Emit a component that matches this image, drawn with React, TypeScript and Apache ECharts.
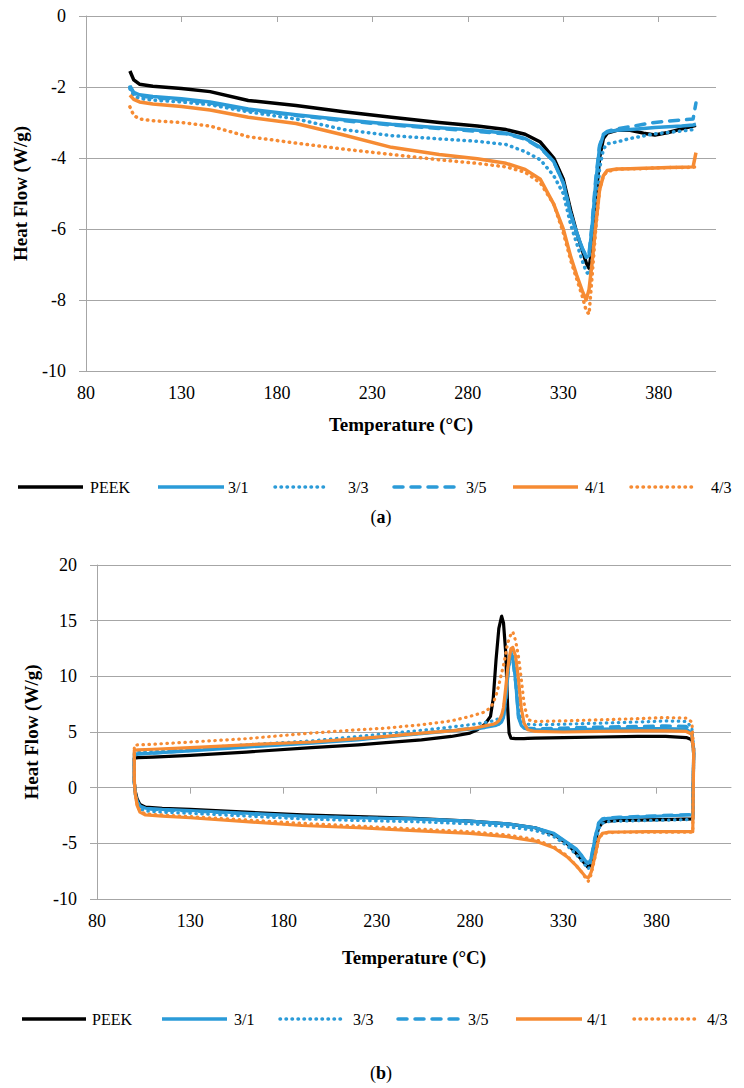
import React, { useEffect, useRef } from 'react';
import * as echarts from 'echarts';

const FONT = "'Liberation Serif', 'Times New Roman', serif";
const BLACK = '#000000';
const BLUE = '#2B9BD8';
const ORANGE = '#F68B33';
const GRAY = '#A6A6A6';

const seriesNames = ['PEEK', '3/1', '3/3', '3/5', '4/1', '4/3'];
const xTicks = [80, 130, 180, 230, 280, 330, 380];

// ---------- Chart (a): heating ----------
const tempA = [103, 105, 108, 115, 130, 145, 165, 190, 215, 240, 265, 285, 300, 310, 318, 325, 330, 334, 337, 340, 342, 343.5, 345, 347, 349, 351, 353, 358, 365, 372, 378, 385, 392, 398, 399.5];
const peekA = [-1.55, -1.8, -1.92, -1.98, -2.04, -2.13, -2.38, -2.52, -2.7, -2.85, -3.0, -3.1, -3.2, -3.33, -3.55, -4.0, -4.6, -5.5, -6.1, -6.6, -6.95, -7.1, -6.6, -5.2, -4.0, -3.45, -3.3, -3.22, -3.22, -3.3, -3.35, -3.28, -3.18, -3.1, -3.08];
const s31A = [-1.97, -2.15, -2.22, -2.27, -2.33, -2.42, -2.62, -2.78, -2.92, -3.05, -3.15, -3.22, -3.3, -3.45, -3.7, -4.1, -4.7, -5.6, -6.1, -6.55, -6.8, -6.75, -6.0, -4.7, -3.7, -3.35, -3.27, -3.22, -3.2, -3.17, -3.14, -3.12, -3.1, -3.07, -3.05];
const s33A = [-2.05, -2.25, -2.32, -2.37, -2.42, -2.5, -2.7, -2.9, -3.2, -3.37, -3.46, -3.53, -3.62, -3.82, -4.05, -4.5, -5.0, -5.9, -6.4, -6.9, -7.2, -7.3, -7.0, -5.8, -4.3, -3.75, -3.6, -3.55, -3.45, -3.38, -3.32, -3.28, -3.24, -3.2, -3.18];
const s35A = [-2.0, -2.18, -2.25, -2.3, -2.36, -2.45, -2.65, -2.8, -2.95, -3.07, -3.17, -3.25, -3.32, -3.47, -3.72, -4.1, -4.7, -5.6, -6.1, -6.55, -6.75, -6.7, -5.9, -4.6, -3.65, -3.33, -3.25, -3.18, -3.12, -3.05, -3.0, -2.96, -2.93, -2.9, -2.45];
const s41A = [-2.23, -2.35, -2.42, -2.48, -2.55, -2.65, -2.85, -3.03, -3.35, -3.7, -3.9, -4.02, -4.15, -4.32, -4.6, -5.3, -6.0, -6.8, -7.3, -7.75, -8.0, -7.7, -7.0, -5.9, -4.9, -4.5, -4.35, -4.31, -4.3, -4.29, -4.28, -4.27, -4.26, -4.25, -3.85];
const s43A = [-2.56, -2.8, -2.9, -2.95, -3.0, -3.1, -3.4, -3.58, -3.75, -3.9, -4.05, -4.15, -4.25, -4.4, -4.7, -5.3, -6.1, -6.9, -7.4, -7.9, -8.3, -8.4, -7.4, -6.0, -4.9, -4.5, -4.38, -4.32, -4.3, -4.3, -4.28, -4.27, -4.27, -4.26, -4.25];

// ---------- Chart (b): heating (bottom) and cooling (top) ----------
const tempBh = [100, 100.5, 101.5, 103, 106, 115, 130, 160, 190, 220, 250, 280, 300, 315, 325, 332, 337, 340, 342, 343.5, 345, 347, 349, 351, 354, 360, 375, 390, 399.5];
const peekBh = [0.5, -0.3, -1.0, -1.5, -1.75, -1.85, -1.95, -2.2, -2.45, -2.6, -2.75, -3.0, -3.25, -3.6, -4.2, -5.0, -5.9, -6.5, -6.9, -7.2, -6.8, -5.0, -3.6, -3.15, -3.0, -2.95, -2.9, -2.85, -2.8];
const s31Bh = [0.5, -0.5, -1.2, -1.65, -1.85, -1.95, -2.05, -2.3, -2.55, -2.7, -2.8, -3.0, -3.25, -3.6, -4.1, -4.9, -5.5, -6.1, -6.6, -6.8, -6.4, -4.6, -3.2, -2.85, -2.75, -2.7, -2.6, -2.5, -2.45];
const s33Bh = [0.5, -0.6, -1.4, -1.9, -2.1, -2.2, -2.3, -2.55, -2.8, -2.95, -3.05, -3.25, -3.5, -3.85, -4.4, -5.2, -6.0, -6.6, -7.0, -7.3, -6.9, -5.3, -3.7, -3.2, -3.05, -3.0, -2.95, -2.9, -2.85];
const s35Bh = [0.5, -0.5, -1.25, -1.7, -1.9, -2.0, -2.1, -2.35, -2.6, -2.72, -2.82, -3.02, -3.27, -3.62, -4.15, -4.95, -5.6, -6.2, -6.6, -6.75, -6.3, -4.5, -3.15, -2.8, -2.7, -2.65, -2.55, -2.45, -2.4];
const s41Bh = [0.7, -0.5, -1.6, -2.2, -2.45, -2.55, -2.7, -3.05, -3.4, -3.6, -3.85, -4.1, -4.4, -4.8, -5.4, -6.2, -7.0, -7.6, -8.0, -8.1, -7.6, -6.2, -4.6, -4.1, -4.0, -3.98, -3.95, -3.95, -3.95];
const s43Bh = [0.7, -0.6, -1.5, -2.1, -2.35, -2.45, -2.6, -2.9, -3.2, -3.45, -3.7, -3.95, -4.25, -4.65, -5.3, -6.1, -7.0, -7.6, -8.1, -8.4, -7.8, -6.3, -4.7, -4.15, -4.05, -4.0, -4.0, -4.0, -4.0];

const tempBc = [400, 399, 396, 385, 370, 350, 330, 315, 311, 309, 307.5, 306, 304.5, 303, 302, 301, 300.2, 299.2, 298, 297, 295.5, 294, 292.5, 291, 288, 284, 280, 270, 254, 235, 220, 195, 160, 130, 110, 102, 100];
const peekBc = [3.5, 4.3, 4.5, 4.6, 4.6, 4.55, 4.5, 4.45, 4.42, 4.4, 4.4, 4.4, 4.4, 4.42, 4.45, 4.9, 7.3, 12.1, 14.8, 15.4, 14.3, 11.5, 8.0, 6.4, 5.7, 5.2, 4.9, 4.6, 4.3, 4.05, 3.85, 3.6, 3.2, 2.9, 2.75, 2.7, 2.65];
const s31Bc = [3.0, 4.9, 5.25, 5.3, 5.3, 5.25, 5.2, 5.2, 5.25, 5.35, 5.6, 6.3, 9.5, 11.7, 12.1, 11.2, 10.0, 8.0, 6.3, 5.9, 5.7, 5.6, 5.55, 5.5, 5.4, 5.3, 5.25, 5.1, 4.85, 4.55, 4.3, 4.0, 3.65, 3.3, 3.1, 3.0, 2.95];
const s33Bc = [3.2, 5.4, 5.95, 6.0, 5.9, 5.8, 5.7, 5.65, 5.7, 5.85, 6.3, 7.5, 10.0, 12.0, 12.3, 11.5, 10.3, 8.5, 7.0, 6.5, 6.2, 6.1, 6.0, 5.95, 5.85, 5.75, 5.65, 5.45, 5.15, 4.85, 4.6, 4.2, 3.85, 3.5, 3.3, 3.25, 3.2];
const s35Bc = [3.0, 5.1, 5.5, 5.55, 5.5, 5.45, 5.35, 5.3, 5.35, 5.45, 5.7, 6.5, 9.4, 11.5, 11.9, 11.0, 9.8, 7.9, 6.3, 5.95, 5.75, 5.65, 5.6, 5.55, 5.45, 5.35, 5.3, 5.15, 4.9, 4.6, 4.35, 4.05, 3.7, 3.35, 3.1, 3.05, 3.0];
const s41Bc = [3.0, 4.8, 5.05, 5.1, 5.1, 5.05, 5.0, 5.05, 5.2, 5.8, 7.2, 9.8, 11.8, 12.6, 12.5, 11.6, 10.6, 9.0, 7.2, 6.5, 6.0, 5.8, 5.7, 5.65, 5.55, 5.4, 5.3, 5.1, 4.9, 4.6, 4.4, 4.1, 3.85, 3.6, 3.45, 3.4, 3.35];
const s43Bc = [3.5, 5.9, 6.25, 6.3, 6.2, 6.1, 6.0, 5.95, 6.1, 7.6, 9.8, 11.8, 13.2, 14.0, 13.8, 13.3, 13.0, 12.0, 11.0, 10.3, 9.2, 8.3, 7.6, 7.2, 6.8, 6.6, 6.4, 6.0, 5.65, 5.35, 5.2, 4.9, 4.4, 4.1, 3.9, 3.85, 3.8];

const valuesA = [peekA, s31A, s33A, s35A, s41A, s43A];
const heatB = [peekBh, s31Bh, s33Bh, s35Bh, s41Bh, s43Bh];
const coolB = [peekBc, s31Bc, s33Bc, s35Bc, s41Bc, s43Bc];

type Sty = { color: string; dash: number[] | null; round: boolean };
const styles: Sty[] = [
  { color: BLACK, dash: null, round: false },
  { color: BLUE, dash: null, round: false },
  { color: BLUE, dash: [0.5, 5.5], round: true },
  { color: BLUE, dash: [9, 8], round: true },
  { color: ORANGE, dash: null, round: false },
  { color: ORANGE, dash: [0.5, 5.5], round: true },
];

function pairs(t: number[], v: number[]) {
  return t.map((x, i) => [x, v[i]]);
}

function xAxisCfg(gridIndex: number, max: number, nameGap: number) {
  return {
    type: 'value', gridIndex, min: 80, max,
    name: 'Temperature (°C)', nameLocation: 'middle', nameGap,
    nameTextStyle: { fontFamily: FONT, fontSize: 19, fontWeight: 'bold', color: '#000' },
    axisLine: { show: true, lineStyle: { color: GRAY, width: 1 } },
    axisTick: { show: true, length: 6, lineStyle: { color: GRAY }, customValues: xTicks },
    axisLabel: { fontFamily: FONT, fontSize: 18, color: '#000', margin: 13, customValues: xTicks },
    splitLine: { show: false },
  };
}

function yAxisCfg(gridIndex: number, min: number, max: number, interval: number) {
  return {
    type: 'value', gridIndex, min, max, interval,
    name: 'Heat Flow (W/g)', nameLocation: 'middle', nameGap: 56,
    nameTextStyle: { fontFamily: FONT, fontSize: 19, fontWeight: 'bold', color: '#000' },
    axisLine: { show: true, lineStyle: { color: GRAY, width: 1 } },
    axisTick: { show: true, length: 7, lineStyle: { color: GRAY } },
    axisLabel: { fontFamily: FONT, fontSize: 18, color: '#000', margin: 20 },
    splitLine: { show: true, lineStyle: { color: GRAY, width: 1 } },
  };
}

function legendGraphic(y: number, lines: number[][], texts: number[]) {
  const out: any[] = [];
  seriesNames.forEach((n, i) => {
    const s = styles[i];
    out.push({
      type: 'line',
      shape: { x1: lines[i][0], y1: y, x2: lines[i][1], y2: y },
      style: { stroke: s.color, lineWidth: 3.5, lineDash: s.dash || undefined, lineCap: s.round ? 'round' : 'butt' },
    });
    out.push({
      type: 'text', x: texts[i], y,
      style: { text: n, fontFamily: FONT, fontSize: 16, fill: '#000', align: 'left', verticalAlign: 'middle' },
    });
  });
  return out;
}

function caption(letter: string, y: number) {
  return {
    type: 'text', x: 381, y,
    style: {
      text: `{n|(}{b|${letter}}{n|)}`,
      align: 'center', verticalAlign: 'middle',
      rich: {
        n: { fontFamily: FONT, fontSize: 18, fill: '#000' },
        b: { fontFamily: FONT, fontSize: 18, fontWeight: 'bold', fill: '#000' },
      },
    },
  };
}

export default function App() {
  const ref = useRef<HTMLDivElement>(null);
  useEffect(() => {
    if (!ref.current) return;
    const chart = echarts.init(ref.current, undefined, { renderer: 'svg' });
    const series: any[] = [];
    seriesNames.forEach((n, i) => {
      const s = styles[i];
      const ls: any = { color: s.color, width: 3.5, type: s.dash ? s.dash : 'solid', cap: s.round ? 'round' : 'butt', join: 'round' };
      series.push({
        name: n, type: 'line', xAxisIndex: 0, yAxisIndex: 0,
        data: pairs(tempA, valuesA[i]), symbol: 'none', showSymbol: false,
        lineStyle: ls, itemStyle: { color: s.color },
      });
    });
    seriesNames.forEach((n, i) => {
      const s = styles[i];
      const ls: any = { color: s.color, width: 3.2, type: s.dash ? s.dash : 'solid', cap: s.round ? 'round' : 'butt', join: 'round' };
      const loop = [...pairs(tempBh, heatB[i]), ...pairs(tempBc, coolB[i]), [tempBh[0], heatB[i][0]]];
      series.push({
        name: n + ' ', type: 'line', xAxisIndex: 1, yAxisIndex: 1,
        data: loop, symbol: 'none', showSymbol: false,
        lineStyle: ls, itemStyle: { color: s.color },
      });
    });
    chart.setOption({
      animation: false,
      backgroundColor: '#ffffff',
      grid: [
        { left: 86, top: 16, width: 630, height: 355 },
        { left: 97, top: 565, width: 634, height: 334 },
      ],
      xAxis: [xAxisCfg(0, 410, 44), xAxisCfg(1, 420, 49)],
      yAxis: [yAxisCfg(0, -10, 0, 2), yAxisCfg(1, -10, 20, 5)],
      series,
      graphic: [
        ...legendGraphic(487, [[18, 83], [158, 224], [275, 325], [394, 462], [513, 578], [631, 693]], [90, 228, 348, 466, 585, 711]),
        ...legendGraphic(1019, [[22, 86], [162, 227], [280, 344], [398, 464], [516, 582], [634, 698]], [92, 234, 353, 468, 587, 707]),
        caption('a', 517),
        caption('b', 1073),
      ],
    });
    return () => chart.dispose();
  }, []);
  return <div ref={ref} style={{ position: 'absolute', left: 0, top: 0, width: 744, height: 1088 }} />;
}
